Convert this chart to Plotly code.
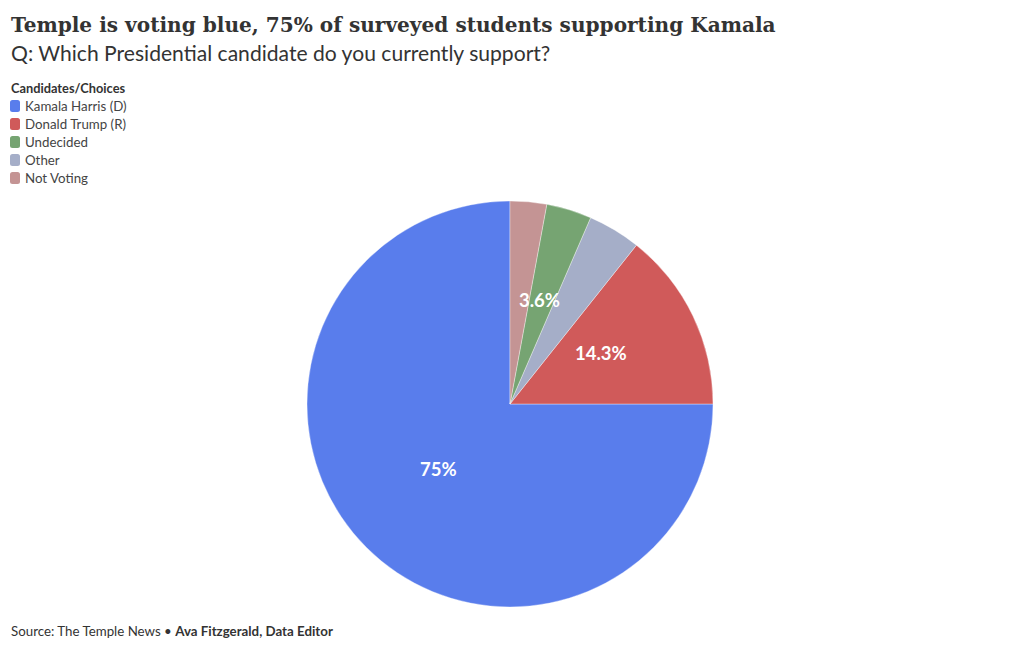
import math
import plotly.graph_objects as go

# Data (slice order as drawn, counter-clockwise from 12 o'clock)
slice_labels = ["Kamala Harris (D)", "Donald Trump (R)", "Other", "Undecided", "Not Voting"]
slice_values = [75.0, 14.3, 4.2, 3.6, 2.9]
slice_text = ["75%", "14.3%", "", "3.6%", ""]
slice_colors = ["#597dec", "#d05a5a", "#a5aec8", "#76a472", "#c49494"]

# Legend order
legend_title = "Candidates/Choices"
legend_labels = ["Kamala Harris (D)", "Donald Trump (R)", "Undecided", "Other", "Not Voting"]
color_map = dict(zip(slice_labels, slice_colors))

W, H = 1020, 650
cx, cy, r = 510, 404, 203

fig = go.Figure()
fig.add_trace(go.Pie(
    labels=slice_labels,
    values=slice_values,
    textinfo="none",
    marker=dict(colors=slice_colors, line=dict(color="rgba(255,255,255,0.6)", width=0.6)),
    sort=False,
    direction="counterclockwise",
    rotation=90,
    showlegend=False,
    hoverinfo="label+percent",
    domain=dict(x=[(cx - r) / W, (cx + r) / W], y=[1 - (cy + r) / H, 1 - (cy - r) / H]),
))

shapes = []
annotations = [
    dict(text="<b>Temple is voting blue, 75% of surveyed students supporting Kamala</b>",
         x=9 / W, y=1 - 11 / H, xref="paper", yref="paper", xanchor="left", yanchor="top",
         showarrow=False, font=dict(family="DejaVu Serif", size=20.1, color="#333")),
    dict(text="Q: Which Presidential candidate do you currently support?",
         x=9 / W, y=1 - 38 / H, xref="paper", yref="paper", xanchor="left", yanchor="top",
         showarrow=False, font=dict(family="Lato", size=21.1, color="#333")),
    dict(text="Source: The Temple News \u2022 <b>Ava Fitzgerald, Data Editor</b>",
         x=9 / W, y=1 - 631 / H, xref="paper", yref="paper", xanchor="left", yanchor="middle",
         showarrow=False, font=dict(family="Lato", size=13.3, color="#333")),
    dict(text="<b>" + legend_title + "</b>",
         x=9 / W, y=1 - 88 / H, xref="paper", yref="paper", xanchor="left", yanchor="middle",
         showarrow=False, font=dict(family="Lato", size=12.8, color="#333")),
]

# Slice labels placed at half radius along each slice's mid-angle (derived from the data)
total = sum(slice_values)
cum = 0.0
for v, t in zip(slice_values, slice_text):
    mid = (cum + v / 2) / total
    cum += v
    if not t:
        continue
    ang = 2 * math.pi * mid  # counter-clockwise from 12 o'clock
    px = cx - 0.5 * r * math.sin(ang)
    py = cy - 0.5 * r * math.cos(ang)
    annotations.append(dict(text="<b>" + t + "</b>", x=px / W, y=1 - py / H,
                            xref="paper", yref="paper", xanchor="center", yanchor="middle",
                            yshift=7, showarrow=False,
                            font=dict(family="Lato", size=18.5, color="white")))

def rounded_rect(x0, y0, x1, y1, rad):
    # pixel coords -> paper coords path
    def P(x, y):
        return f"{x / W:.6f},{1 - y / H:.6f}"
    return (f"M {P(x0 + rad, y0)} L {P(x1 - rad, y0)} Q {P(x1, y0)} {P(x1, y0 + rad)} "
            f"L {P(x1, y1 - rad)} Q {P(x1, y1)} {P(x1 - rad, y1)} "
            f"L {P(x0 + rad, y1)} Q {P(x0, y1)} {P(x0, y1 - rad)} "
            f"L {P(x0, y0 + rad)} Q {P(x0, y0)} {P(x0 + rad, y0)} Z")

for i, lab in enumerate(legend_labels):
    yc = 106 + 18 * i
    shapes.append(dict(type="path", xref="paper", yref="paper",
                       path=rounded_rect(10, yc - 6, 20, yc + 6, 2.5),
                       fillcolor=color_map[lab], line=dict(width=0)))
    annotations.append(dict(text=lab, x=23 / W, y=1 - yc / H, xref="paper", yref="paper",
                            xanchor="left", yanchor="middle", showarrow=False,
                            font=dict(family="Lato", size=13.3, color="#444")))

fig.update_layout(
    width=W, height=H,
    margin=dict(l=0, r=0, t=0, b=0),
    paper_bgcolor="white", plot_bgcolor="white",
    showlegend=False,
    shapes=shapes,
    annotations=annotations,
)

fig.write_html("out.html")
